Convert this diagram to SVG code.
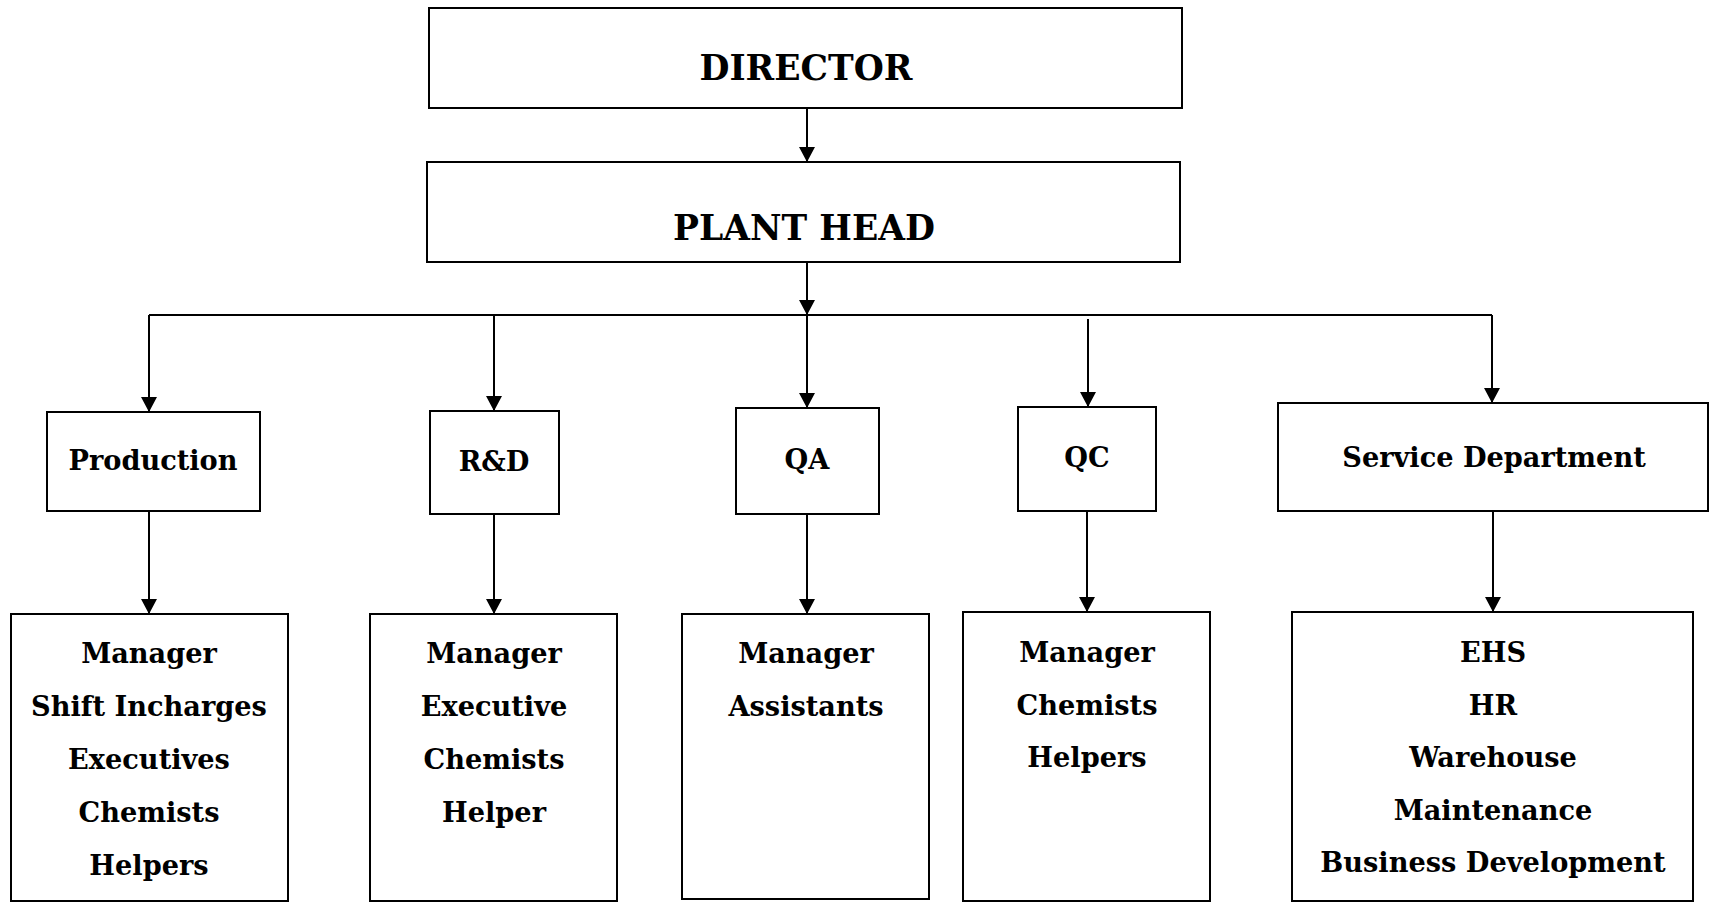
<svg xmlns="http://www.w3.org/2000/svg" width="1712" height="902" viewBox="0 0 1712 902">
<style>
.box{fill:#fff;stroke:#000;stroke-width:2}
.t{font-family:"DejaVu Serif","Liberation Serif",serif;font-weight:bold;fill:#000;text-anchor:middle}
.big{font-size:34.5px}
.n{font-size:27.2px}
.c{fill:none;stroke:#000;stroke-width:2}
.a{marker-end:url(#arr)}
</style>
<defs>
<marker id="arr" viewBox="0 0 15 16" refX="15" refY="8" markerWidth="15" markerHeight="16" markerUnits="userSpaceOnUse" orient="auto">
<path d="M0,0 L15,8 L0,16 z" fill="#000"/>
</marker>
</defs>
<rect width="1712" height="902" fill="#fff"/>
<g id="connectors">
<line class="c a" x1="807" y1="108" x2="807" y2="162"/>
<line class="c a" x1="807" y1="262" x2="807" y2="315"/>
<line class="c" x1="149" y1="315" x2="1492" y2="315"/>
<line class="c a" x1="149" y1="315" x2="149" y2="412"/>
<line class="c a" x1="494" y1="315" x2="494" y2="411"/>
<line class="c a" x1="807" y1="315" x2="807" y2="408"/>
<line class="c a" x1="1088" y1="319" x2="1088" y2="407"/>
<line class="c a" x1="1492" y1="315" x2="1492" y2="403"/>
<line class="c a" x1="149" y1="511" x2="149" y2="614"/>
<line class="c a" x1="494" y1="511" x2="494" y2="614"/>
<line class="c a" x1="807" y1="514" x2="807" y2="614"/>
<line class="c a" x1="1087" y1="511" x2="1087" y2="612"/>
<line class="c a" x1="1493" y1="511" x2="1493" y2="612"/>
</g>
<g id="director">
<rect class="box" x="429" y="8" width="753" height="100"/>
<text class="t big" x="806" y="80">DIRECTOR</text>
</g>
<g id="plant-head">
<rect class="box" x="427" y="162" width="753" height="100"/>
<text class="t big" x="804" y="240">PLANT HEAD</text>
</g>
<g id="production">
<rect class="box" x="47" y="412" width="213" height="99"/>
<text class="t n" x="153" y="470">Production</text>
</g>
<g id="rnd">
<rect class="box" x="430" y="411" width="129" height="103"/>
<text class="t n" x="494" y="471">R&amp;D</text>
</g>
<g id="qa">
<rect class="box" x="736" y="408" width="143" height="106"/>
<text class="t n" x="807" y="469">QA</text>
</g>
<g id="qc">
<rect class="box" x="1018" y="407" width="138" height="104"/>
<text class="t n" x="1087" y="467">QC</text>
</g>
<g id="service">
<rect class="box" x="1278" y="403" width="430" height="108"/>
<text class="t n" x="1494" y="467">Service Department</text>
</g>
<g id="production-staff">
<rect class="box" x="11" y="614" width="277" height="287"/>
<text class="t n" x="149" y="663">Manager</text>
<text class="t n" x="149" y="716">Shift Incharges</text>
<text class="t n" x="149" y="769">Executives</text>
<text class="t n" x="149" y="822">Chemists</text>
<text class="t n" x="149" y="875">Helpers</text>
</g>
<g id="rnd-staff">
<rect class="box" x="370" y="614" width="247" height="287"/>
<text class="t n" x="494" y="663">Manager</text>
<text class="t n" x="494" y="716">Executive</text>
<text class="t n" x="494" y="769">Chemists</text>
<text class="t n" x="494" y="822">Helper</text>
</g>
<g id="qa-staff">
<rect class="box" x="682" y="614" width="247" height="285"/>
<text class="t n" x="806" y="663">Manager</text>
<text class="t n" x="806" y="716">Assistants</text>
</g>
<g id="qc-staff">
<rect class="box" x="963" y="612" width="247" height="289"/>
<text class="t n" x="1087" y="662">Manager</text>
<text class="t n" x="1087" y="715">Chemists</text>
<text class="t n" x="1087" y="767">Helpers</text>
</g>
<g id="service-staff">
<rect class="box" x="1292" y="612" width="401" height="289"/>
<text class="t n" x="1493" y="662">EHS</text>
<text class="t n" x="1493" y="715">HR</text>
<text class="t n" x="1493" y="767">Warehouse</text>
<text class="t n" x="1493" y="820">Maintenance</text>
<text class="t n" x="1493" y="872">Business Development</text>
</g>
</svg>
